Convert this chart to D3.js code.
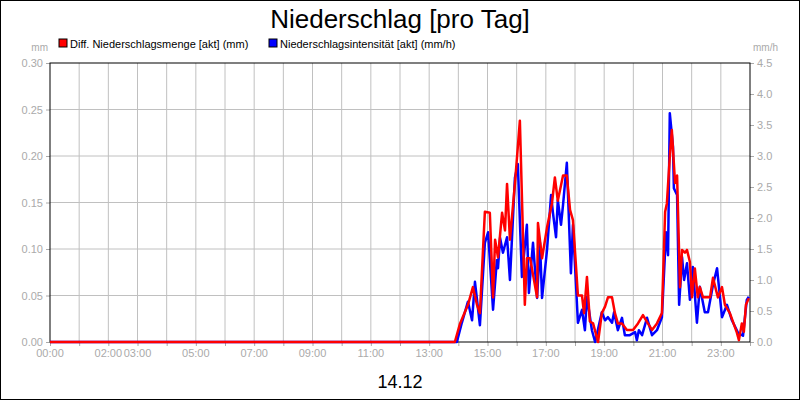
<!DOCTYPE html><html><head><meta charset="utf-8"><script src="https://cdn.jsdelivr.net/npm/d3@7"></script>
<style>body{margin:0}svg{font-family:"Liberation Sans",Arial,sans-serif}</style></head><body><svg id="c" width="800" height="400"></svg><script>
const redT=[0,13.88,14.06,14.33,14.50,14.64,14.74,14.91,15.08,15.19,15.26,15.36,15.50,15.60,15.67,15.77,15.94,16.11,16.28,16.35,16.46,16.70,16.73,16.87,17.04,17.21,17.31,17.41,17.59,17.72,17.83,17.93,18.10,18.24,18.31,18.41,18.51,18.62,18.79,18.92,19.03,19.13,19.27,19.37,19.47,19.61,19.78,19.99,20.16,20.33,20.50,20.64,20.81,20.98,21.09,21.15,21.25,21.32,21.43,21.50,21.60,21.67,21.77,21.84,21.94,22.01,22.11,22.21,22.28,22.39,22.63,22.73,22.90,23.04,23.14,23.31,23.55,23.62,23.72,23.79,23.86,23.96];
const redV=[0,0,0.020,0.040,0.059,0.040,0.031,0.140,0.139,0.048,0.110,0.091,0.139,0.120,0.170,0.110,0.170,0.238,0.040,0.090,0.090,0.048,0.128,0.090,0.123,0.149,0.177,0.152,0.179,0.179,0.142,0.131,0.050,0.050,0.031,0.070,0.022,0.020,0,0.031,0.038,0.048,0.048,0.031,0.020,0.020,0.013,0.013,0.020,0.029,0.020,0.013,0.020,0.031,0.140,0.149,0.199,0.228,0.171,0.179,0.059,0.099,0.096,0.099,0.086,0.048,0.079,0.048,0.059,0.048,0.048,0.069,0.048,0.059,0.040,0.031,0.010,0.002,0.020,0.011,0.040,0.047];
const blueT=[0,13.95,14.12,14.33,14.47,14.57,14.74,14.91,15.02,15.19,15.32,15.36,15.43,15.53,15.67,15.77,15.94,16.04,16.18,16.35,16.42,16.56,16.70,16.80,16.87,17.04,17.18,17.24,17.35,17.41,17.52,17.59,17.72,17.86,17.93,18.10,18.24,18.34,18.41,18.58,18.69,18.92,19.03,19.13,19.27,19.34,19.47,19.61,19.71,19.88,20.06,20.12,20.19,20.30,20.47,20.64,20.81,20.98,21.12,21.19,21.25,21.36,21.39,21.50,21.57,21.67,21.74,21.84,21.94,22.04,22.18,22.28,22.45,22.56,22.73,22.87,23.04,23.21,23.38,23.59,23.76,23.89,23.96];
const blueV=[0,0,0.31,0.65,0.35,0.97,0.27,1.60,1.77,0.52,1.32,1.19,1.68,1.44,1.69,1.00,2.65,2.87,1.05,1.89,0.79,1.60,0.71,1.60,0.71,1.48,2.37,2.10,1.69,2.29,1.89,2.21,2.89,1.11,1.89,0.31,0.52,0.19,0.73,0.19,0,0.48,0.35,0.40,0.31,0.48,0.19,0.39,0.11,0.11,0.16,0.03,0.19,0.11,0.39,0.11,0.19,0.40,1.77,1.40,3.69,3.15,2.48,2.37,0.60,1.37,1.00,1.27,0.68,1.21,0.31,0.89,0.48,0.48,0.92,1.19,0.40,0.60,0.35,0.15,0.10,0.68,0.73];
const xLabels=[[0,"00:00"],[2,"02:00"],[3,"03:00"],[5,"05:00"],[7,"07:00"],[9,"09:00"],[11,"11:00"],[13,"13:00"],[15,"15:00"],[17,"17:00"],[19,"19:00"],[21,"21:00"],[23,"23:00"]];
const leftTicks=[0,0.05,0.10,0.15,0.20,0.25,0.30];
const rightTicks=[0,0.5,1,1.5,2,2.5,3,3.5,4,4.5];
const svg=d3.select("#c");
svg.append("rect").attr("x",0.5).attr("y",0.5).attr("width",799).attr("height",399).attr("fill","#fff").attr("stroke","#000");
const L=50,R=750,T=63,B=342;
const x=d3.scaleLinear().domain([0,24]).range([L,R]);
const yl=d3.scaleLinear().domain([0,0.3]).range([B,T]);
const yr=d3.scaleLinear().domain([0,4.5]).range([B,T]);
const g=svg.append("g");
g.selectAll(".vg").data(d3.range(1,24)).join("line").attr("x1",d=>x(d)).attr("x2",d=>x(d)).attr("y1",T).attr("y2",B).attr("stroke","#c0c0c0");
g.selectAll(".hg").data(leftTicks.slice(1,-1)).join("line").attr("x1",L).attr("x2",R).attr("y1",d=>yl(d)).attr("y2",d=>yl(d)).attr("stroke","#c0c0c0");
const gray="#aaa";
const ax=svg.append("g").attr("transform",`translate(${L},0)`).call(d3.axisLeft(yl).tickValues(leftTicks).tickFormat(d3.format(".2f")).tickSize(4));
const ar=svg.append("g").attr("transform",`translate(${R},0)`).call(d3.axisRight(yr).tickValues(rightTicks).tickFormat(d3.format(".1f")).tickSize(4));
const ab=svg.append("g").attr("transform",`translate(0,${B})`).call(d3.axisBottom(x).tickValues(d3.range(0,25)).tickFormat("").tickSize(4));
[ax,ar,ab].forEach(a=>{a.select(".domain").remove();a.selectAll("line").attr("stroke",gray);a.selectAll("text").attr("fill",gray).style("font-size","11px").style("font-family","Liberation Sans, Arial");});
svg.selectAll(".xl").data(xLabels).join("text").attr("x",d=>x(d[0])).attr("y",B+15).attr("text-anchor","middle").attr("fill",gray).style("font-size","11px").text(d=>d[1]);
svg.append("rect").attr("x",L).attr("y",T).attr("width",R-L).attr("height",B-T).attr("fill","none").attr("stroke","#000");
const ln=(ys,ts)=>d3.line().x((d,i)=>x(ts[i])).y(d=>ys(d));
svg.append("path").attr("d",ln(yr,blueT)(blueV)).attr("fill","none").attr("stroke","#0000ff").attr("stroke-width",2.5).attr("stroke-linejoin","round");
svg.append("path").attr("d",ln(yl,redT)(redV)).attr("fill","none").attr("stroke","#ff0000").attr("stroke-width",2.5).attr("stroke-linejoin","round");
svg.append("text").attr("x",400).attr("y",28).attr("text-anchor","middle").style("font-size","26px").text("Niederschlag [pro Tag]");
svg.append("text").attr("x",400).attr("y",388).attr("text-anchor","middle").style("font-size","18px").text("14.12");
svg.append("text").attr("x",48).attr("y",51).attr("text-anchor","end").attr("fill",gray).style("font-size","10px").text("mm");
svg.append("text").attr("x",778).attr("y",51).attr("text-anchor","end").attr("fill",gray).style("font-size","10px").text("mm/h");
const leg=[["#ff0000","Diff. Niederschlagsmenge [akt] (mm)",59],["#0000ff","Niederschlagsintensität [akt] (mm/h)",269]];
leg.forEach(([c,t,lx])=>{svg.append("rect").attr("x",lx).attr("y",39).attr("width",8).attr("height",8).attr("fill",c).attr("stroke","#000");
svg.append("text").attr("x",lx+11).attr("y",47.5).style("font-size","11px").text(t);});
</script></body></html>
